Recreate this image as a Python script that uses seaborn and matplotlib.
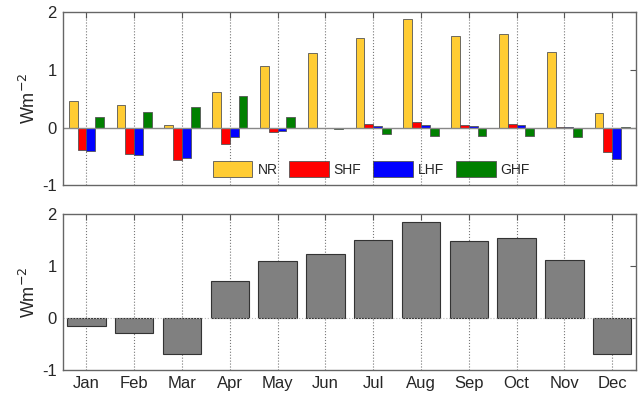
import numpy as np
import pandas as pd
import matplotlib
matplotlib.use("Agg")
import matplotlib.pyplot as plt
import seaborn as sns

months = ["Jan", "Feb", "Mar", "Apr", "May", "Jun",
          "Jul", "Aug", "Sep", "Oct", "Nov", "Dec"]
series = ["NR", "SHF", "LHF", "GHF"]

nr  = [0.46, 0.40, 0.04, 0.61, 1.07, 1.29, 1.55, 1.88, 1.59, 1.63, 1.31, 0.25]
shf = [-0.39, -0.45, -0.57, -0.28, -0.07, 0.00, 0.06, 0.10, 0.05, 0.06, 0.01, -0.42]
lhf = [-0.40, -0.48, -0.53, -0.16, -0.06, 0.00, 0.03, 0.05, 0.03, 0.04, 0.01, -0.54]
ghf = [0.19, 0.27, 0.36, 0.54, 0.19, -0.02, -0.11, -0.14, -0.15, -0.14, -0.16, 0.01]

net = [-0.14, -0.28, -0.69, 0.72, 1.11, 1.23, 1.51, 1.86, 1.49, 1.54, 1.13, -0.69]

colors = {"NR": "#FFCC33", "SHF": "#FF0000", "LHF": "#0000FF", "GHF": "#008000"}

sns.set_style("white")
plt.rcParams["font.family"] = ["Liberation Sans", "DejaVu Sans"]

long = pd.DataFrame({
    "month": months * 4,
    "series": np.repeat(series, len(months)),
    "value": nr + shf + lhf + ghf,
})

fig = plt.figure(figsize=(6.38, 3.95), dpi=100)
ax1 = fig.add_axes([0.098, 0.531, 0.899, 0.438])
ax2 = fig.add_axes([0.098, 0.0625, 0.899, 0.395])

sns.barplot(data=long, x="month", y="value", hue="series", order=months,
            hue_order=series, palette=colors, width=0.74, saturation=1,
            edgecolor="#555555", linewidth=0.6, errorbar=None, ax=ax1)
sns.barplot(x=months, y=net, color="#808080", width=0.8, saturation=1,
            edgecolor="#333333", linewidth=0.8, errorbar=None, ax=ax2)

handles, labels = ax1.get_legend_handles_labels()
ax1.legend(handles, labels, ncol=4, frameon=False, loc="lower left",
           bbox_to_anchor=(0.262, 0.045), fontsize=10, handlelength=2.85,
           handleheight=1.45, handletextpad=0.36, columnspacing=0.85,
           borderaxespad=0.0, borderpad=0.0)

for ax in (ax1, ax2):
    ax.set_xlim(-0.5, 11.5)
    ax.set_ylim(-1, 2)
    ax.set_yticks([-1, 0, 1, 2])
    ax.set_yticklabels(["-1", "0", "1", "2"])
    ax.set_ylabel("Wm$^{-2}$", fontsize=13, labelpad=2)
    ax.set_xlabel("")
    ax.set_axisbelow(True)
    ax.xaxis.grid(True, linestyle=":", color="#777777", linewidth=0.8)
    ax.yaxis.grid(False)
    ax.tick_params(direction="in", top=True, right=True, length=4,
                   labelsize=12, color="#555555", pad=4)
    for sp in ax.spines.values():
        sp.set_color("#666666")
        sp.set_linewidth(1.0)

ax1.axhline(0, color="#888888", linewidth=1.0, zorder=1)
ax2.axhline(0, color="#bbbbbb", linewidth=0.8, linestyle=":", zorder=1)
ax1.tick_params(labelbottom=False)

fig.savefig("out.png", dpi=100)
